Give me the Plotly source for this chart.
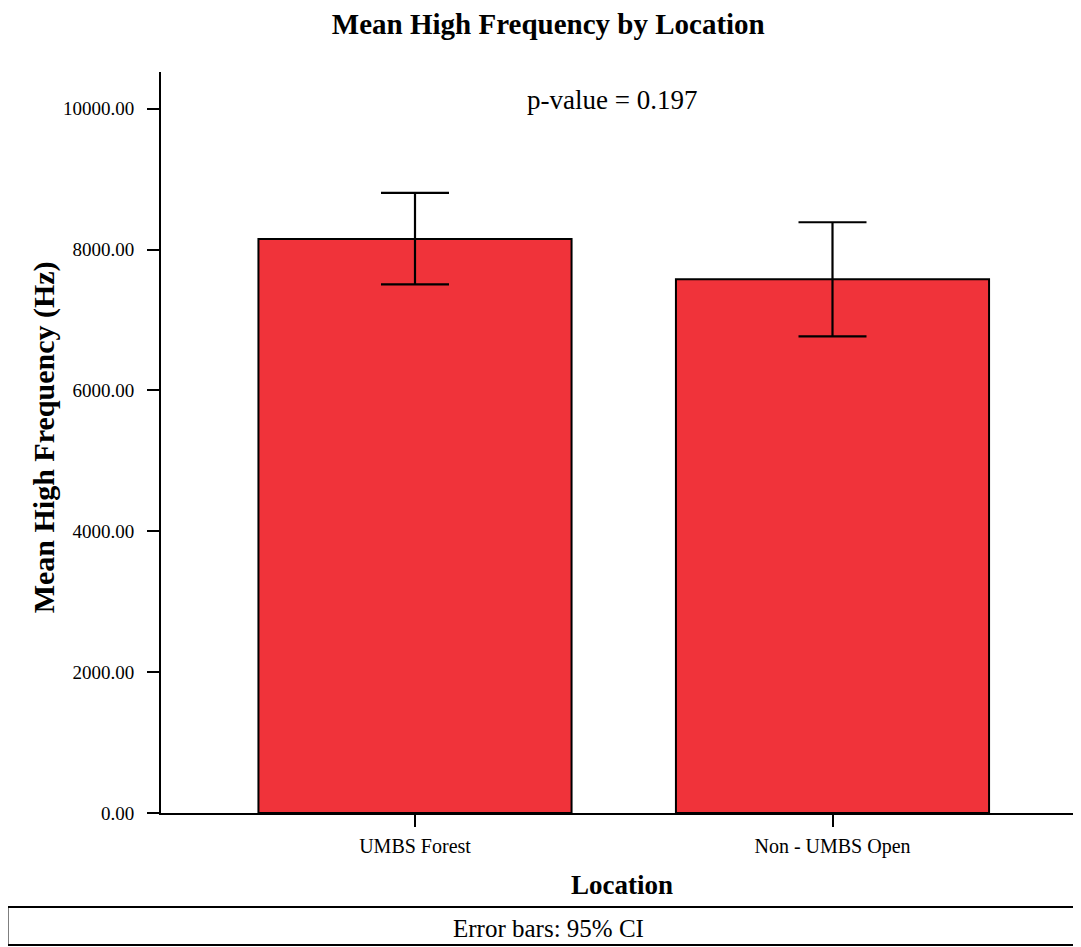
import plotly.graph_objects as go

# ---- data ----
locations = ["UMBS Forest", "Non - UMBS Open"]
mean_high_freq = [8150, 7579]
ci_upper = [8803, 8387]
ci_lower = [7504, 6766]
y_tick_values = [0, 2000, 4000, 6000, 8000, 10000]
p_value_text = "p-value = 0.197"

err_plus = [u - m for u, m in zip(ci_upper, mean_high_freq)]
err_minus = [m - l for m, l in zip(mean_high_freq, ci_lower)]

FONT = "Liberation Serif"
BAR_COLOR = "#F0333A"
OFF = 8  # default page body margin

fig = go.Figure()
fig.add_trace(go.Bar(
    x=locations,
    y=mean_high_freq,
    width=0.75,
    marker=dict(color=BAR_COLOR, line=dict(color="black", width=2)),
    error_y=dict(type="data", symmetric=False, array=err_plus, arrayminus=err_minus,
                 color="black", thickness=2.2, width=34),
    showlegend=False,
    hoverinfo="skip",
))

PLOT_W = 1081 - 161 + 10  # axis runs past the right edge of the window
W, H = (161 - OFF) + PLOT_W, 947 - OFF
fig.update_layout(
    width=W, height=H,
    margin=dict(l=161 - OFF, r=0, t=72 - OFF, b=H - (72 - OFF) - 741),
    paper_bgcolor="white", plot_bgcolor="white",
    font=dict(family=FONT, color="black"),
    title=dict(text="<b>Mean High Frequency by Location</b>",
               x=(548.3 - OFF) / W, xanchor="center", xref="container",
               y=1 - (24 - OFF) / H, yanchor="middle", yref="container",
               font=dict(family=FONT, size=29, color="black")),
    bargap=0.25,
)

# category centres at 415 px and 832.5 px (417.5 px apart), axis starts at 161 px
x_left = -(415 - 161) / 417.5
x_right = x_left + PLOT_W / 417.5
fig.update_xaxes(
    range=[x_left, x_right],
    showline=True, linecolor="black", linewidth=2,
    ticks="outside", ticklen=12, tickwidth=2, tickcolor="black",
    ticklabelstandoff=2,
    tickfont=dict(family=FONT, size=20, color="black"),
    showgrid=False, zeroline=False, fixedrange=True,
)
fig.update_yaxes(
    range=[0, 10520],
    tickvals=y_tick_values,
    tickformat=".2f",
    showline=True, linecolor="black", linewidth=2,
    ticks="outside", ticklen=12, tickwidth=2, tickcolor="black",
    ticklabelstandoff=9,
    tickfont=dict(family=FONT, size=19, color="black"),
    showgrid=False, zeroline=False, fixedrange=True,
)

def px_x(px):
    return (px - 161) / PLOT_W

def px_y(py):
    return (813 - py) / 741

annotations = [
    dict(text=p_value_text, xref="paper", yref="paper", x=px_x(611.5), y=px_y(100),
         xanchor="center", yanchor="middle", showarrow=False,
         font=dict(family=FONT, size=27, color="black")),
    dict(text="<b>Mean High Frequency (Hz)</b>", xref="paper", yref="paper",
         x=px_x(44), y=0.507, textangle=-90,
         xanchor="center", yanchor="middle", showarrow=False,
         font=dict(family=FONT, size=30, color="black")),
    dict(text="<b>Location</b>", xref="paper", yref="paper",
         x=px_x(621.7), y=px_y(885),
         xanchor="center", yanchor="middle", showarrow=False,
         font=dict(family=FONT, size=27, color="black")),
    dict(text="Error bars: 95% CI", xref="paper", yref="paper",
         x=px_x(548.5), y=px_y(928),
         xanchor="center", yanchor="middle", showarrow=False,
         font=dict(family=FONT, size=25, color="black")),
]
fig.update_layout(annotations=annotations)

fig.add_shape(type="rect", xref="paper", yref="paper",
              x0=px_x(7.5), x1=px_x(1110),
              y0=px_y(945), y1=px_y(907),
              line=dict(color="black", width=2), fillcolor="rgba(0,0,0,0)",
              layer="above")

fig.write_html("out.html", config={"displayModeBar": False})
